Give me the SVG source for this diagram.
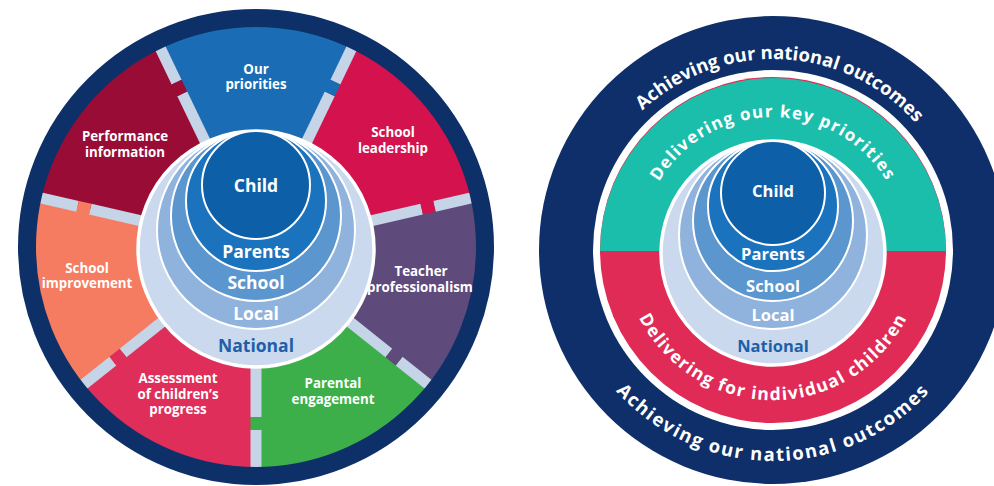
<svg xmlns="http://www.w3.org/2000/svg" width="994" height="486" viewBox="0 0 994 486">
<style>
text{font-family:"Open Sans","Liberation Sans",sans-serif;font-weight:700}
.lbl{font-size:13.3px;fill:#fff;text-anchor:middle}
.in{font-size:17.5px;fill:#fff;text-anchor:middle}
.inr{font-size:16.5px;fill:#fff;text-anchor:middle}
.nat{fill:#1d5fa8}
.sep{fill:#c6d4e7}
.c1{fill:#0d5fa8;stroke:#fff;stroke-width:2}
.c2{fill:#1b73bd;stroke:#fff;stroke-width:2}
.c3{fill:#5c96ce;stroke:#fff;stroke-width:2}
.c4{fill:#8fb3dc;stroke:#fff;stroke-width:2}
.c5{fill:#cad9ed;stroke:#fff;stroke-width:3.5}
.arc{fill:#fff;text-anchor:middle}
</style>
<defs>
<g id="sep"><rect class="sep" x="-5.5" y="-222" width="11" height="39"/><rect class="sep" x="-5.5" y="-170" width="11" height="60"/></g>
<path id="pTopA" d="M584.9,283.2 A191,191 0 1 1 961.1,283.2"/>
<path id="pBotA" d="M565.2,213.4 A211,211 0 1 0 980.8,213.4"/>
<path id="pTopD" d="M642,273.1 A133,133 0 1 1 904,273.1"/>
<path id="pBotD" d="M625.3,224 A150,150 0 1 0 920.7,224"/>
</defs>
<rect width="994" height="486" fill="#fff"/>

<!-- LEFT WHEEL -->
<g id="wedge-priorities"><path d="M256,247 L158.4,44.3 A225,225 0 0 1 353.6,44.3 Z" fill="#1a6db4"/></g>
<g id="wedge-leadership"><path d="M256,247 L353.6,44.3 A225,225 0 0 1 475.4,196.9 Z" fill="#d3124e"/></g>
<g id="wedge-teacher"><path d="M256,247 L475.4,196.9 A225,225 0 0 1 431.9,387.3 Z" fill="#5f4a7c"/></g>
<g id="wedge-parental"><path d="M256,247 L431.9,387.3 A225,225 0 0 1 256,472 Z" fill="#3daf4a"/></g>
<g id="wedge-assessment"><path d="M256,247 L256,472 A225,225 0 0 1 80.1,387.3 Z" fill="#df2e5a"/></g>
<g id="wedge-improvement"><path d="M256,247 L80.1,387.3 A225,225 0 0 1 36.6,196.9 Z" fill="#f57b61"/></g>
<g id="wedge-performance"><path d="M256,247 L36.6,196.9 A225,225 0 0 1 158.4,44.3 Z" fill="#990c36"/></g>

<g id="separators">
<g transform="translate(256 247) rotate(25.71)"><use href="#sep"/><rect x="-5.5" y="-183" width="11" height="13" fill="#1a6db4"/></g>
<g transform="translate(256 247) rotate(77.14)"><use href="#sep"/><rect x="-5.5" y="-183" width="11" height="13" fill="#d3124e"/></g>
<g transform="translate(256 247) rotate(128.57)"><use href="#sep"/><rect x="-5.5" y="-183" width="11" height="13" fill="#5f4a7c"/></g>
<g transform="translate(256 247) rotate(180)"><use href="#sep"/><rect x="-5.5" y="-183" width="11" height="13" fill="#3daf4a"/></g>
<g transform="translate(256 247) rotate(231.43)"><use href="#sep"/><rect x="-5.5" y="-183" width="11" height="13" fill="#df2e5a"/></g>
<g transform="translate(256 247) rotate(282.86)"><use href="#sep"/><rect x="-5.5" y="-183" width="11" height="13" fill="#f57b61"/></g>
<g transform="translate(256 247) rotate(334.29)"><use href="#sep"/><rect x="-5.5" y="-183" width="11" height="13" fill="#990c36"/></g>
</g>

<g id="left-rim"><circle cx="256" cy="247" r="229" fill="none" stroke="#0e3069" stroke-width="18"/></g>

<g id="wedge-labels">
<text class="lbl" x="256" y="74">Our</text><text class="lbl" x="256" y="89">priorities</text>
<text class="lbl" x="393" y="137">School</text><text class="lbl" x="393" y="153">leadership</text>
<text class="lbl" x="421" y="276">Teacher</text><text class="lbl" x="420" y="292" font-size="12.8">professionalism</text>
<text class="lbl" x="333" y="388">Parental</text><text class="lbl" x="333" y="404">engagement</text>
<text class="lbl" x="178" y="383">Assessment</text><text class="lbl" x="178" y="399">of children’s</text><text class="lbl" x="178" y="414">progress</text>
<text class="lbl" x="87" y="273">School</text><text class="lbl" x="87" y="288">improvement</text>
<text class="lbl" x="125" y="141">Performance</text><text class="lbl" x="125" y="157">information</text>
</g>

<g id="left-national"><circle class="c5" cx="256" cy="249" r="118"/><text class="in nat" x="256" y="352">National</text></g>
<g id="left-local"><circle class="c4" cx="256" cy="230" r="99"/><text class="in" x="256" y="320">Local</text></g>
<g id="left-school"><circle class="c3" cx="256" cy="216" r="85"/><text class="in" x="256" y="289">School</text></g>
<g id="left-parents"><circle class="c2" cx="256" cy="201" r="70"/><text class="in" x="256" y="258">Parents</text></g>
<g id="left-child"><circle class="c1" cx="256" cy="185" r="54"/><text class="in" x="256" y="192">Child</text></g>

<!-- RIGHT WHEEL -->
<g id="national-outcomes"><circle cx="773" cy="250" r="234" fill="#0e2f69"/>
<text class="arc" font-size="18.5" transform="rotate(2.6 773 250)"><textPath href="#pTopA" startOffset="50%">Achieving our national outcomes</textPath></text>
<text class="arc" font-size="18.5" letter-spacing="1.6"><textPath href="#pBotA" startOffset="50%">Achieving our national outcomes</textPath></text></g>
<g id="white-ring"><circle cx="773" cy="250" r="180" fill="#fff"/></g>
<g id="individual-children"><circle cx="773" cy="250" r="173" fill="#e12b57"/>
<text class="arc" font-size="17.5" letter-spacing="1.3"><textPath href="#pBotD" startOffset="50%">Delivering for individual children</textPath></text></g>
<g id="key-priorities"><path d="M600,251 A173,173 0 0 1 946,251 Z" fill="#1bbeab"/>
<text class="arc" font-size="17" letter-spacing="1.25"><textPath href="#pTopD" startOffset="50%">Delivering our key priorities</textPath></text></g>

<g id="right-national"><circle class="c5" cx="773" cy="253" r="112"/><text class="inr nat" x="773" y="352">National</text></g>
<g id="right-local"><circle class="c4" cx="773" cy="235" r="94"/><text class="inr" x="773" y="321">Local</text></g>
<g id="right-school"><circle class="c3" cx="773" cy="221" r="80"/><text class="inr" x="773" y="292">School</text></g>
<g id="right-parents"><circle class="c2" cx="773" cy="206" r="65"/><text class="inr" x="773" y="260">Parents</text></g>
<g id="right-child"><circle class="c1" cx="773" cy="193" r="52"/><text class="inr" x="773" y="197">Child</text></g>
</svg>
